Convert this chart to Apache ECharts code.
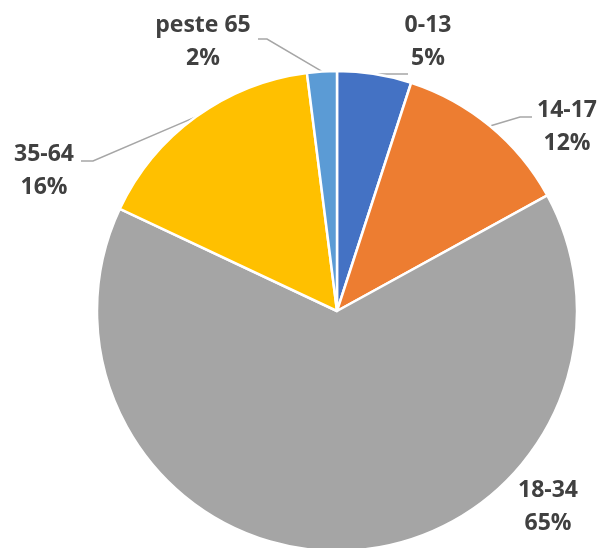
<!DOCTYPE html>
<html>
<head>
<meta charset="utf-8">
<script src="https://cdn.jsdelivr.net/npm/echarts@6/dist/echarts.min.js"></script>
<style>html,body{margin:0;padding:0;background:#fff;}#c{width:602px;height:548px;}</style>
</head>
<body>
<div id="c"></div>
<script>
const categories = ['0-13', '14-17', '18-34', '35-64', 'peste 65'];
const values = [5, 12, 65, 16, 2];
const colors = ['#4472C4', '#ED7D31', '#A5A5A5', '#FFC000', '#5B9BD5'];

// label placement (layout only): label centre and guide-line elbow points
const labelPos = [
  {x: 428, y: 42, line: [[408, null]]},
  {x: 567, y: 127, line: [[520, 117], [532, 117]]},
  {x: 548, y: 507, line: null},
  {x: 44, y: 171, line: [[93, 161], [81, 161]]},
  {x: 203, y: 42, line: [[267, 39], [258, 39]]}
];

const chart = echarts.init(document.getElementById('c'), null, {renderer: 'canvas'});
chart.setOption({
  animation: false,
  series: [{
    type: 'pie',
    center: [337, 311],
    radius: 240,
    startAngle: 90,
    clockwise: true,
    itemStyle: {borderColor: '#fff', borderWidth: 2.5},
    label: {
      show: true,
      position: 'outside',
      formatter: p => p.name + '\n' + p.value + '%',
      fontFamily: 'Open Sans',
      fontWeight: 'bold',
      fontSize: 23,
      lineHeight: 33,
      color: '#404040',
      align: 'center',
      overflow: 'none',
      width: 120
    },
    labelLine: {show: true, lineStyle: {color: '#A6A6A6', width: 1.5}},
    labelLayout: function (params) {
      const lp = labelPos[params.dataIndex];
      const res = {x: lp.x, y: lp.y, align: 'center', verticalAlign: 'middle', hideOverlap: false};
      if (lp.line && params.labelLinePoints) {
        const start = params.labelLinePoints[0];
        const pts = [[start[0], start[1]]];
        lp.line.forEach(pt => pts.push([pt[0], pt[1] == null ? start[1] : pt[1]]));
        if (pts.length === 2) pts.push(pts[1].slice());
        res.labelLinePoints = pts;
      }
      return res;
    },
    data: categories.map((c, i) => ({
      name: c,
      value: values[i],
      itemStyle: {color: colors[i]},
      labelLine: {show: labelPos[i].line != null}
    }))
  }]
});
</script>
</body>
</html>
